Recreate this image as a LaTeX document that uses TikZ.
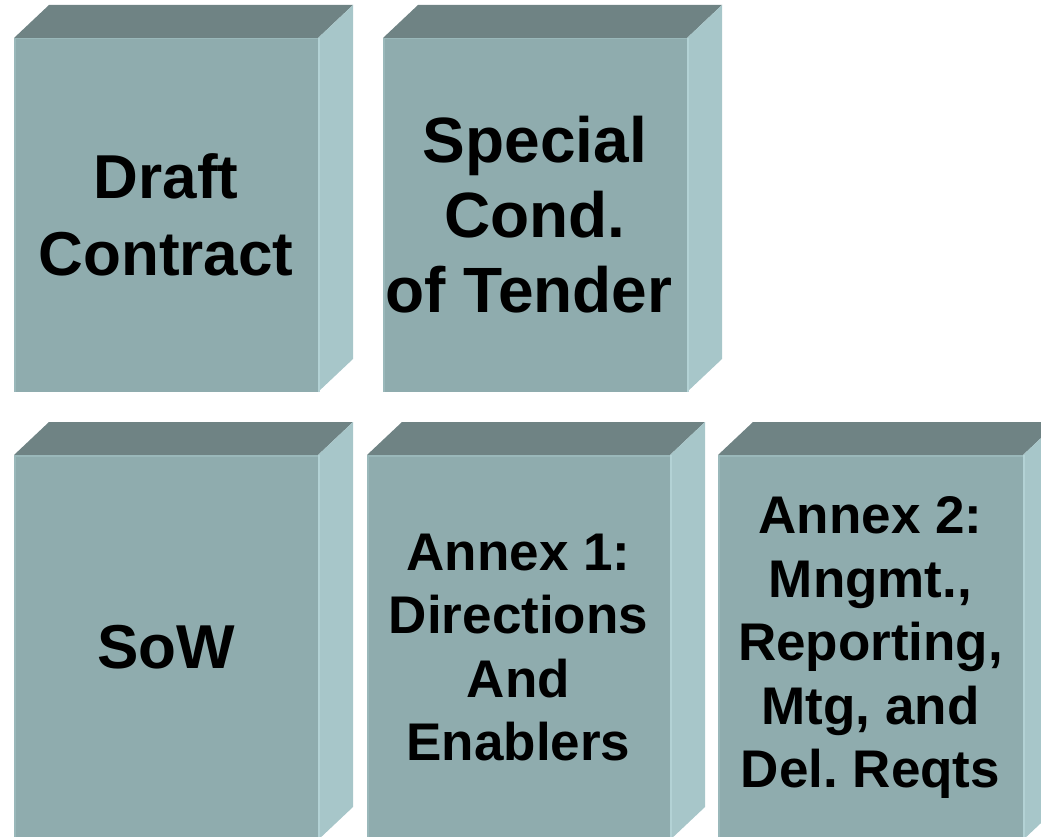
\documentclass[tikz,border=0pt]{standalone}
\usepackage{fontspec}
\setmainfont{Liberation Sans}
\usepackage{tikz}
\frenchspacing
\definecolor{frontcol}{HTML}{8FACAE}
\definecolor{topcol}{HTML}{6F8384}
\definecolor{sidecol}{HTML}{A7C6C9}
\definecolor{edgecol}{HTML}{9AB8BA}
\definecolor{sideedge}{HTML}{B3D2D5}
\tikzset{
	face/.style={fill=frontcol,inner sep=0pt,outer sep=0pt,align=center,text=black},
	bigtext/.style={font=\fontsize{62}{77}\selectfont\bfseries},
	tendertext/.style={font=\fontsize{64}{75}\selectfont\bfseries},
	smalltext/.style={font=\fontsize{53}{63.5}\selectfont\bfseries}
}

\begin{document}
\begin{tikzpicture}[x=1pt,y=-1pt]
		\useasboundingbox (0,0) rectangle (1041,837);
		% front faces
		\node [face,bigtext,minimum width=304pt,minimum height=354pt] (draft) at (166,215) {Draft\\Contract};
		\node [face,tendertext,minimum width=304pt,minimum height=354pt] (special) at (535,215) {Special\\Cond.\\of Tender\hspace*{12pt}};
		\node [face,bigtext,minimum width=304pt,minimum height=385pt] (sow) at (166,647.5) {SoW};
		\node [face,smalltext,minimum width=303pt,minimum height=385pt] (annexa) at (518.5,647.5) {Annex 1:\\Directions\\And\\Enablers};
		\node [face,smalltext,minimum width=305pt,minimum height=385pt] (annexb) at (870.5,647.5) {Annex 2:\\Mngmt.,\\Reporting,\\Mtg, and\\Del. Reqts};
		% top and side faces
		\foreach \n in {draft,special,sow,annexa,annexb}
		{
			\fill [topcol] (\n.north west)--([shift={(35,-33)}]\n.north west)--([shift={(35,-33)}]\n.north east)--(\n.north east)--cycle;
			\fill [sidecol] (\n.north east)--([shift={(35,-33)}]\n.north east)--([shift={(35,-33)}]\n.south east)--(\n.south east)--cycle;
			\draw [edgecol,line width=1.5pt] ([shift={(0.75,0)}]\n.south west)--([shift={(0.75,0.75)}]\n.north west)--([shift={(0,0.75)}]\n.north east);
			\draw [sideedge,line width=1.5pt] ([shift={(0.75,0)}]\n.north east)--([shift={(0.75,0)}]\n.south east);
		}
	\end{tikzpicture}
\end{document}
